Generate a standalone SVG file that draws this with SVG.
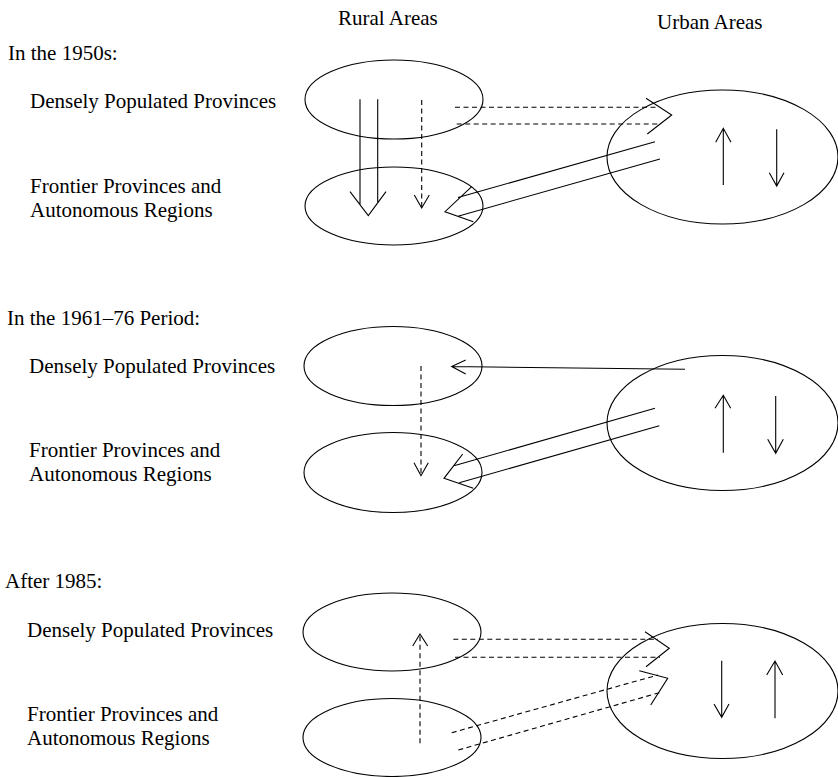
<svg xmlns="http://www.w3.org/2000/svg" width="838" height="777" viewBox="0 0 838 777">
<style>
text{font-family:"Liberation Serif","Times New Roman",serif;font-size:21px;fill:#000}
.e{fill:none;stroke:#000;stroke-width:1.1}
.s{fill:none;stroke:#000;stroke-width:1.1}
.d{fill:none;stroke:#000;stroke-width:1.1;stroke-dasharray:5 3.5}
</style>
<rect width="838" height="777" fill="#fff"/>
<g id="headers">
<text x="338" y="24.5">Rural Areas</text>
<text x="657" y="28.5">Urban Areas</text>
</g>
<g id="labels">
<text x="8" y="60">In the 1950s:</text>
<text x="30" y="108">Densely Populated Provinces</text>
<text x="30" y="193">Frontier Provinces and</text>
<text x="30" y="216.5">Autonomous Regions</text>
<text x="7" y="325">In the 1961–76 Period:</text>
<text x="29" y="372.5">Densely Populated Provinces</text>
<text x="29" y="456.5">Frontier Provinces and</text>
<text x="29" y="480.5">Autonomous Regions</text>
<text x="5" y="588">After 1985:</text>
<text x="27" y="636.5">Densely Populated Provinces</text>
<text x="27" y="720.5">Frontier Provinces and</text>
<text x="27" y="744.5">Autonomous Regions</text>
</g>
<g id="p1-dense"><ellipse class="e" cx="394" cy="99.5" rx="89" ry="39.5"/></g>
<g id="p1-frontier"><ellipse class="e" cx="394" cy="206" rx="89" ry="39"/></g>
<g id="p1-urban"><ellipse class="e" cx="722.5" cy="157" rx="115.5" ry="67"/></g>
<g id="p2-dense"><ellipse class="e" cx="393" cy="366" rx="89" ry="39.5"/></g>
<g id="p2-frontier"><ellipse class="e" cx="393" cy="472.5" rx="89" ry="40"/></g>
<g id="p2-urban"><ellipse class="e" cx="722.5" cy="423" rx="115.5" ry="67.5"/></g>
<g id="p3-dense"><ellipse class="e" cx="392" cy="632" rx="89" ry="39"/></g>
<g id="p3-frontier"><ellipse class="e" cx="392" cy="737.5" rx="89" ry="39"/></g>
<g id="p3-urban"><ellipse class="e" cx="722.5" cy="691" rx="115.5" ry="67.5"/></g>
<g id="connectors">
<!-- Panel 1 -->
<path class="s" d="M360,99.3V204.5M377.7,99.3V203M350,191.7L368.3,215.7L386,191.7"/>
<path class="d" d="M421.7,100V207"/>
<path class="s" d="M414.3,195L421.7,208L429.3,195"/>
<path class="d" d="M455,107.3H659M456.7,124H661"/>
<path class="s" d="M646,98.3L671.7,115L647.3,134"/>
<path class="s" d="M723.3,185V128.5M715.7,142.3L723.3,128.3L731,142.3"/>
<path class="s" d="M776.7,129.3V186M769.3,172.7L776.7,186L784,172.7"/>
<path class="s" d="M655,141.7L458,197.5M660,159L458,216.2M471.7,186.7L445,211.7L473.3,221.7"/>
<!-- Panel 2 -->
<path class="s" d="M685,369.3L451.7,366.5M465.7,360L451.7,366.5L465.7,374"/>
<path class="d" d="M421,366V475"/>
<path class="s" d="M414,462.7L421,475.7L428.3,462.7"/>
<path class="s" d="M655,408.3L454,465.8M659.3,425.7L459.3,482.7M462.7,454L444,478.3L473.3,488.3"/>
<path class="s" d="M723.3,452.7V395.5M715,408.3L723.3,395.3L730.7,408.3"/>
<path class="s" d="M775.7,396V453.3M767.7,439.3L775.7,453.3L783.3,439.3"/>
<!-- Panel 3 -->
<path class="d" d="M420,743.3V635"/>
<path class="s" d="M412.7,646L420,634L427.7,646"/>
<path class="d" d="M453.3,639.3H658M455,657.3H660"/>
<path class="s" d="M645,631.7L669.3,648.3L646,666.7"/>
<path class="d" d="M451.7,732.7L658,675M458.3,750L660,692.5"/>
<path class="s" d="M639.3,670.7L667.7,678.3L650.7,705"/>
<path class="s" d="M721.7,660.7V717.3M714,704L721.7,717.3L729,704"/>
<path class="s" d="M775,718.3V661M766.7,675L775,661L782.7,675"/>
</g>
</svg>
